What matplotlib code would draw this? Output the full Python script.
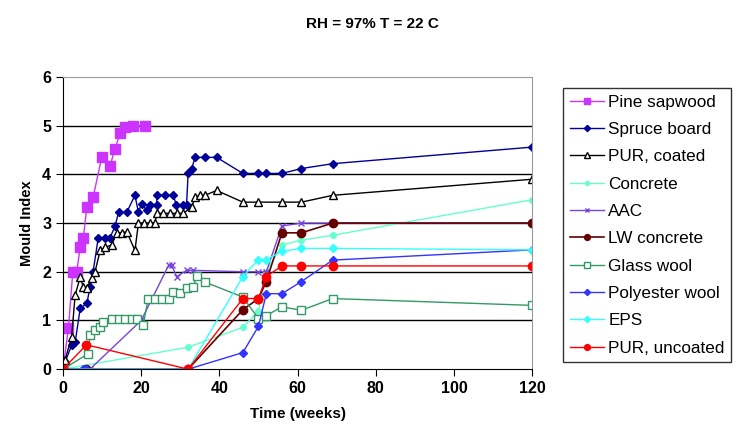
import matplotlib
matplotlib.use('Agg')
import matplotlib.pyplot as plt

plt.rcParams['font.family'] = ['Liberation Sans', 'DejaVu Sans']

# weeks / mould index
pine_t = [0, 1.4, 2.5, 3.5, 4.4, 5.2, 6.1, 7.7, 9.9, 12, 13.3, 14.6, 15.9, 18, 21]
pine_m = [0, 0.85, 2.0, 2.0, 2.5, 2.7, 3.33, 3.53, 4.35, 4.17, 4.52, 4.85, 4.97, 5.0, 5.0]

spruce_t = [0, 0.5, 2.2, 3.1, 4.4, 6.1, 6.9, 7.7, 9.0, 10.7, 12, 13.3, 14.2, 16.3, 18.4,
            19.3, 20.1, 21.4, 22.3, 24, 24, 26, 28.2, 29, 30.8, 31.6, 32, 32.9, 33.8,
            36.3, 39.3, 46, 50, 52, 56, 61, 69, 120]
spruce_m = [0, 0.14, 0.49, 0.55, 1.25, 1.35, 1.68, 2.0, 2.69, 2.69, 2.7, 2.93, 3.22, 3.22, 3.57,
            3.22, 3.4, 3.26, 3.37, 3.37, 3.57, 3.57, 3.57, 3.37, 3.37, 3.37, 4.02, 4.12, 4.35,
            4.35, 4.35, 4.02, 4.02, 4.02, 4.02, 4.12, 4.22, 4.56]

purc_t = [0, 0.5, 2.2, 3.1, 4.4, 5.2, 6.1, 7.3, 8.2, 9.5, 10.7, 12.5, 13.7, 15, 16.3, 18.4,
          19.3, 20.6, 22.3, 23.5, 24, 25.7, 27.4, 29.1, 30.8, 32.9, 33.8, 35.1, 36.3, 39.3,
          46, 50, 56, 61, 69, 120]
purc_m = [0, 0.18, 0.66, 1.52, 1.89, 1.68, 1.66, 1.87, 2.0, 2.44, 2.5, 2.55, 2.8, 2.8, 2.82, 2.44,
          3.0, 3.0, 3.0, 3.0, 3.2, 3.2, 3.2, 3.2, 3.2, 3.33, 3.53, 3.57, 3.57, 3.67,
          3.43, 3.43, 3.43, 3.43, 3.57, 3.9]

concrete_t = [0, 32, 46, 50, 52, 56, 61, 69, 120]
concrete_m = [0, 0.45, 0.86, 1.2, 2.0, 2.55, 2.65, 2.75, 3.48]

aac_t = [0, 6.9, 20, 27, 27.8, 29.1, 31.6, 33.3, 46, 50, 52, 56, 61, 69, 120]
aac_m = [0, 0, 1.0, 2.13, 2.13, 1.9, 2.03, 2.03, 2.0, 2.0, 2.0, 2.94, 3.0, 3.0, 3.0]

lw_t = [0, 6, 32, 46, 50, 52, 56, 61, 69, 120]
lw_m = [0, 0, 0, 1.22, 1.45, 1.8, 2.8, 2.8, 3.0, 3.0]

glass_t = [0, 6.5, 6.9, 8.2, 9.5, 10.3, 12.5, 14.2, 15.9, 17.6, 18.9, 20.5, 21.8, 23.5, 25.2,
           27, 28.2, 29.9, 31.6, 33.3, 34.2, 36.3, 46, 50, 52, 56, 61, 69, 120]
glass_m = [0, 0.32, 0.7, 0.8, 0.87, 0.97, 1.02, 1.02, 1.02, 1.02, 1.02, 0.9, 1.45, 1.45, 1.45,
           1.45, 1.59, 1.56, 1.66, 1.69, 1.91, 1.79, 1.48, 1.04, 1.1, 1.28, 1.21, 1.45, 1.31]

poly_t = [0, 5, 6, 32, 46, 50, 52, 56, 61, 69, 120]
poly_m = [0, 0, 0, 0, 0.34, 0.88, 1.55, 1.55, 1.8, 2.24, 2.45]

eps_t = [0, 32, 46, 50, 52, 56, 61, 69, 120]
eps_m = [0, 0, 1.9, 2.25, 2.25, 2.42, 2.48, 2.48, 2.45]

puru_t = [0, 6, 32, 46, 50, 52, 56, 61, 69, 120]
puru_m = [0, 0.5, 0, 1.45, 1.45, 1.9, 2.12, 2.12, 2.12, 2.12]

fig = plt.figure(figsize=(7.37, 4.4), dpi=100)
ax = fig.add_axes([0.0855, 0.161, 0.6365, 0.664])

for yv in [1, 2, 3, 4, 5]:
    ax.axhline(yv, color='black', lw=1.0, zorder=0)

ax.plot(pine_t, pine_m, color='#CC33FF', marker='s', ms=6.5, lw=1, label='Pine sapwood')
ax.plot(spruce_t, spruce_m, color='#000099', marker='D', ms=4.5, lw=1, label='Spruce board')
ax.plot(purc_t, purc_m, color='black', marker='^', ms=6, mfc='white', lw=1, label='PUR, coated')
ax.plot(concrete_t, concrete_m, color='#66FFCC', marker='o', ms=4, lw=1, label='Concrete')
ax.plot(aac_t, aac_m, color='#7744DD', marker='x', ms=4, lw=1, label='AAC')
ax.plot(lw_t, lw_m, color='#660000', marker='o', ms=6, lw=1.2, label='LW concrete')
ax.plot(glass_t, glass_m, color='#339966', marker='s', ms=6, mfc='white', lw=1, label='Glass wool')
ax.plot(poly_t, poly_m, color='#3333FF', marker='D', ms=4.5, lw=1, label='Polyester wool')
ax.plot(eps_t, eps_m, color='#33FFFF', marker='D', ms=4.5, lw=1, label='EPS')
ax.plot(puru_t, puru_m, color='#FF0000', marker='o', ms=6, lw=1, label='PUR, uncoated')

ax.set_xlim(0, 120)
ax.set_ylim(0, 6)
ax.set_xticks([0, 20, 40, 60, 80, 100, 120])
ax.set_yticks([0, 1, 2, 3, 4, 5, 6])
ax.tick_params(direction='out', length=5, labelsize=11.5)
for lab in ax.get_xticklabels() + ax.get_yticklabels():
    lab.set_fontweight('bold')
ax.spines['top'].set_color('#999999')
ax.spines['right'].set_color('#999999')

ax.set_xlabel('Time (weeks)', fontsize=11, fontweight='bold', labelpad=8)
ax.set_ylabel('Mould Index', fontsize=10.5, fontweight='bold', labelpad=6)
fig.text(0.505, 0.945, 'RH = 97% T = 22 C', fontsize=11, fontweight='bold',
         ha='center', va='center')

leg = fig.legend(loc='upper left', bbox_to_anchor=(563 / 737, 1 - 88 / 440),
                 fontsize=12.3, frameon=True, fancybox=False, edgecolor='black',
                 borderaxespad=0, labelspacing=0.72, handlelength=2.0,
                 handletextpad=0.25, borderpad=0.4, markerscale=0.7)
leg.get_frame().set_linewidth(1.0)

fig.savefig('out.png', dpi=100)
